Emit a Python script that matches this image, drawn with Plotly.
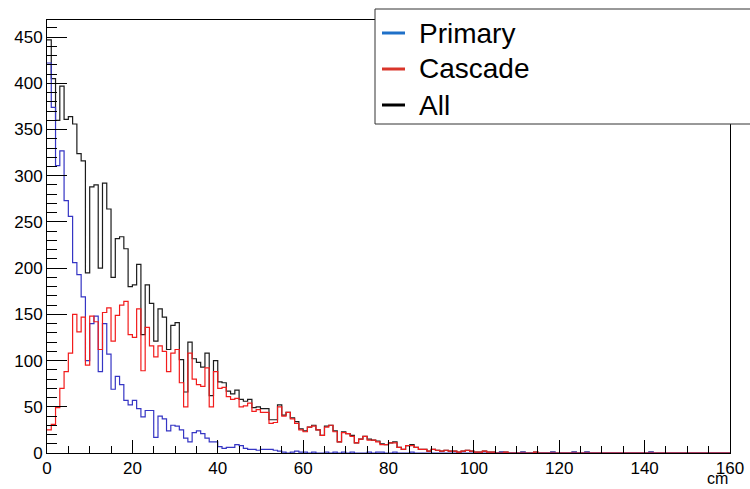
import plotly.graph_objects as go

# ---------------- data (1 cm bins, 0..160 cm) ----------------
bin_edges_cm = list(range(0, 161))

primary = [
    422, 374, 311, 327, 273, 256, 206, 193, 169, 100,
    140, 148, 88, 140, 107, 69, 83, 74, 57, 52,
    57, 48, 39, 46, 46, 17, 40, 37, 24, 30,
    29, 25, 16, 12, 22, 24, 21, 16, 12, 12,
    7, 5, 6, 6, 9, 8, 5, 4, 4, 3,
    4, 4, 4, 3, 2, 1, 0, 1, 2, 1,
    1, 0, 1, 0, 0, 1, 0, 1, 0, 1,
    0, 1, 0, 0, 0, 1, 0, 1, 1, 0,
    0, 1, 0, 0, 0, 1, 0, 0, 0, 0,
    0, 0, 0, 0, 0, 0, 0, 0, 0, 0,
    0, 0, 0, 0, 0, 0, 1, 0, 0, 0,
    0, 1, 0, 0, 0, 0, 0, 0, 1, 0,
    0, 0, 0, 1, 0, 0, 1, 0, 0, 0,
    0, 0, 0, 0, 0, 0, 0, 0, 0, 0,
    0, 1, 0, 0, 0, 0, 0, 0, 0, 0,
    0, 0, 0, 0, 0, 0, 0, 0, 0, 0,
]

cascade = [
    25, 31, 49, 70, 88, 108, 150, 131, 147, 95,
    148, 142, 112, 152, 157, 121, 149, 160, 164, 128,
    125, 156, 89, 136, 116, 104, 116, 110, 88, 108,
    112, 76, 50, 108, 80, 74, 72, 92, 50, 88,
    70, 71, 61, 58, 59, 50, 51, 54, 45, 47,
    44, 44, 32, 33, 50, 40, 44, 37, 32, 25,
    23, 28, 29, 25, 19, 28, 30, 23, 12, 22,
    21, 18, 11, 15, 18, 14, 14, 12, 9, 9,
    11, 11, 6, 4, 8, 8, 6, 4, 4, 2,
    4, 3, 2, 3, 2, 2, 1, 2, 3, 2,
    1, 1, 2, 1, 1, 0, 0, 1, 0, 0,
    0, 0, 0, 0, 1, 0, 0, 0, 0, 0,
    0, 0, 0, 0, 0, 0, 0, 0, 0, 0,
    0, 0, 0, 0, 0, 0, 0, 0, 0, 0,
    0, 0, 0, 0, 0, 0, 0, 0, 0, 0,
    0, 0, 0, 0, 0, 0, 0, 0, 0, 0,
]

all_hits = [
    447, 405, 360, 397, 361, 364, 356, 324, 316, 195,
    288, 290, 200, 292, 264, 190, 232, 234, 221, 180,
    182, 204, 128, 182, 162, 121, 156, 147, 112, 138,
    141, 101, 66, 120, 102, 98, 93, 108, 62, 100,
    77, 76, 67, 64, 68, 58, 56, 58, 49, 50,
    48, 48, 36, 36, 52, 41, 44, 38, 34, 26,
    24, 28, 30, 25, 19, 29, 30, 24, 12, 23,
    21, 19, 11, 15, 18, 15, 14, 13, 10, 9,
    11, 12, 6, 4, 8, 9, 6, 4, 4, 2,
    4, 3, 2, 3, 2, 2, 1, 2, 3, 2,
    1, 1, 2, 1, 1, 0, 1, 1, 0, 0,
    0, 1, 0, 0, 1, 0, 0, 0, 1, 0,
    0, 0, 0, 1, 0, 0, 1, 0, 0, 0,
    0, 0, 0, 0, 0, 0, 0, 0, 0, 0,
    0, 1, 0, 0, 0, 0, 0, 0, 0, 0,
    0, 0, 0, 0, 0, 0, 0, 0, 0, 0,
]

x_tick_vals = [0, 20, 40, 60, 80, 100, 120, 140, 160]
y_tick_vals = [0, 50, 100, 150, 200, 250, 300, 350, 400, 450]

series_names = ["All", "Primary", "Cascade"]
line_colors = {"All": "#1c1c1c", "Primary": "#3535c4", "Cascade": "#f21c1c"}
legend_colors = {"Primary": "#1f70c8", "Cascade": "#d9352a", "All": "#000000"}
series_values = {"All": all_hits, "Primary": primary, "Cascade": cascade}

# ---------------- figure ----------------
W, H = 750, 489
L, R, T, B = 47, 20, 20, 36
pw, ph = W - L - R, H - T - B

def px_x(px):
    return (px - L) / pw

def px_y(py):
    return (H - B - py) / ph

fig = go.Figure()
for name in series_names:
    vals = series_values[name]
    fig.add_trace(go.Scatter(
        x=bin_edges_cm,
        y=list(vals) + [vals[-1]],
        mode="lines",
        line=dict(shape="hv", color=line_colors[name], width=1.2),
        name=name,
        showlegend=False,
        hoverinfo="skip",
    ))

font_family = "Liberation Sans, Arial, Helvetica, sans-serif"

fig.update_layout(
    width=W, height=H,
    margin=dict(l=L, r=R, t=T, b=B, pad=0, autoexpand=False),
    paper_bgcolor="white",
    plot_bgcolor="white",
    font=dict(family=font_family, color="black", size=17),
    showlegend=False,
)

fig.update_xaxes(
    range=[0, 160], automargin=False,
    tickmode="array", tickvals=x_tick_vals,
    ticks="inside", ticklen=13, tickwidth=1, tickcolor="black",
    minor=dict(tickmode="linear", tick0=0, dtick=5, ticks="inside", ticklen=7, tickcolor="black", tickwidth=1),
    showline=True, linecolor="black", linewidth=1, mirror=True,
    showgrid=False, zeroline=False,
    tickfont=dict(size=17, family=font_family, color="black"),
)
fig.update_yaxes(
    range=[0, 468.5], automargin=False,
    tickmode="array", tickvals=y_tick_vals,
    ticks="inside", ticklen=20, tickwidth=1, tickcolor="black",
    minor=dict(tickmode="linear", tick0=0, dtick=10, ticks="inside", ticklen=10, tickcolor="black", tickwidth=1),
    showline=True, linecolor="black", linewidth=1, mirror=True,
    showgrid=False, zeroline=False,
    tickfont=dict(size=17, family=font_family, color="black"),
)

# axis title "cm" at bottom right
fig.add_annotation(
    text="cm", xref="paper", yref="paper",
    x=1.0, y=px_y(489), xanchor="right", yanchor="bottom",
    showarrow=False, font=dict(size=16, family=font_family, color="black"),
)

# legend box (extends beyond right edge like the reference)
fig.add_shape(
    type="rect", xref="paper", yref="paper",
    x0=px_x(375), x1=px_x(770), y0=px_y(124), y1=px_y(9),
    line=dict(color="#333333", width=1), fillcolor="white", layer="above",
)
legend_rows = [("Primary", 33), ("Cascade", 69), ("All", 105)]
for name, yrow in legend_rows:
    fig.add_shape(
        type="line", xref="paper", yref="paper",
        x0=px_x(382), x1=px_x(405), y0=px_y(yrow), y1=px_y(yrow),
        line=dict(color=legend_colors[name], width=3), layer="above",
    )
    fig.add_annotation(
        text=name, xref="paper", yref="paper",
        x=px_x(417), y=px_y(yrow), xanchor="left", yanchor="middle",
        showarrow=False, font=dict(size=28, family=font_family, color="black"),
    )

fig.write_html("out.html")
